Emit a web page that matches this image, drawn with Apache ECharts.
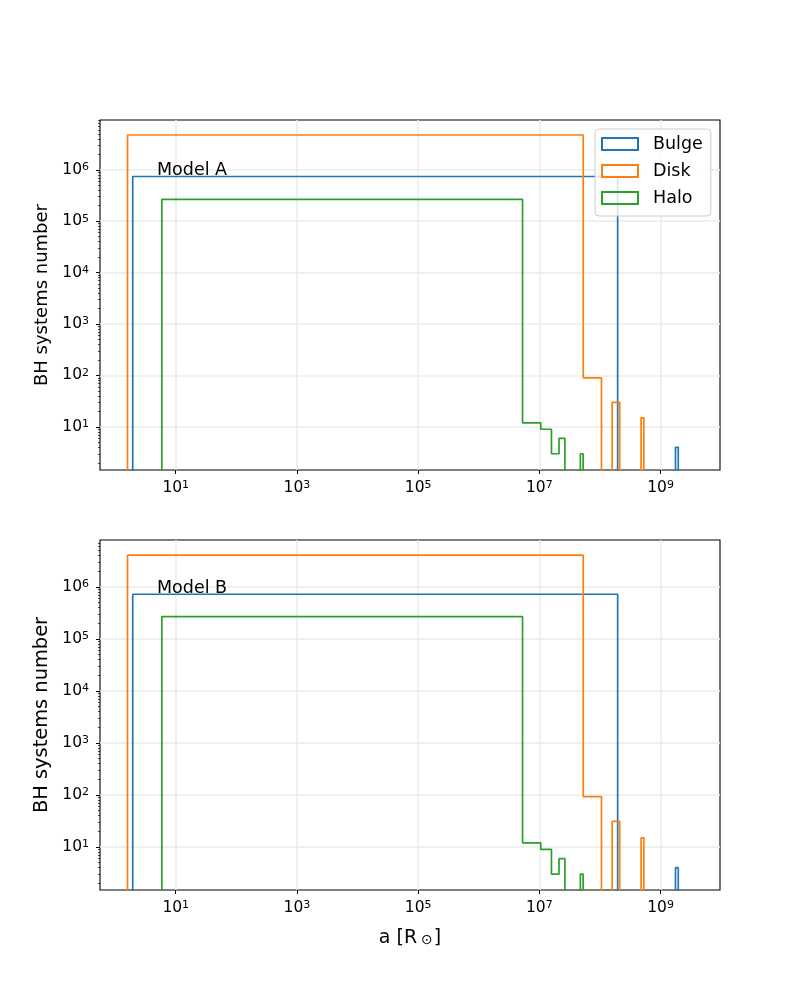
<!DOCTYPE html>
<html>
<head>
<meta charset="utf-8">
<script src="https://cdn.jsdelivr.net/npm/echarts@6/dist/echarts.min.js"></script>
<style>
  html, body { margin: 0; padding: 0; background: #fff; }
  #chart { width: 800px; height: 1000px; }
</style>
</head>
<body>
<div id="chart"></div>
<script>
// bin edges (a in R_sun) and counts per bin
var bulgeEdges = [1.95, 1.96e8, 3.92e8, 5.88e8, 7.84e8, 9.8e8, 1.176e9, 1.372e9, 1.568e9, 1.764e9, 1.96e9];
var diskEdges  = [1.6, 5.3e7, 1.06e8, 1.59e8, 2.12e8, 2.65e8, 3.18e8, 3.71e8, 4.24e8, 4.77e8, 5.3e8];
var haloEdges  = [5.9, 5.28e6, 1.056e7, 1.584e7, 2.112e7, 2.64e7, 3.168e7, 3.696e7, 4.224e7, 4.752e7, 5.28e7];

// Model A
var bulgeA = [7.4e5, 0, 0, 0, 0, 0, 0, 0, 0, 4];
var diskA  = [4.75e6, 90, 0, 30, 0, 0, 0, 0, 0, 15];
var haloA  = [2.67e5, 12, 9, 3, 6, 0, 0, 0, 0, 3];
// Model B
var bulgeB = [7.2e5, 0, 0, 0, 0, 0, 0, 0, 0, 4];
var diskB  = [4.06e6, 93, 0, 31, 0, 0, 0, 0, 0, 15];
var haloB  = [2.68e5, 12, 9, 3, 6, 0, 0, 0, 0, 3];

var names = ['Bulge', 'Disk', 'Halo'];
var colors = ['#1f77b4', '#ff7f0e', '#2ca02c'];
var xTicks = [1e1, 1e3, 1e5, 1e7, 1e9];
var yTicks = [1e1, 1e2, 1e3, 1e4, 1e5, 1e6];

var FONT = 'DejaVu Sans';
var xMin = 0.5627, xMax = 9.57e9;
var yMinA = 1.45, yMaxA = 9.3e6;
var yMinB = 1.49, yMaxB = 7.95e6;

// minor tick positions 2..9 x 10^k
var yMinor = [];
for (var k = 0; k <= 6; k++) {
  for (var m = 2; m <= 9; m++) yMinor.push(m * Math.pow(10, k));
}

// step outline of a histogram; empty bins drop below the axis (clipped)
function stepLine(edges, counts) {
  var floor = 1;
  var pts = [[edges[0], floor]];
  for (var i = 0; i < counts.length; i++) {
    var c = counts[i] > 0 ? counts[i] : floor;
    pts.push([edges[i], c]);
    pts.push([edges[i + 1], c]);
  }
  pts.push([edges[edges.length - 1], floor]);
  return pts;
}

function powLabel(v) {
  var e = Math.round(Math.log(v) / Math.LN10);
  return '{b|10}{s|' + e + '}';
}
var powRich = {
  b: { fontSize: 15.5, fontFamily: FONT, color: '#000' },
  s: { fontSize: 11, fontFamily: FONT, color: '#000', verticalAlign: 'top' }
};

function xAxisCfg(gi, withName) {
  var ax = {
    type: 'log', gridIndex: gi, min: xMin, max: xMax, logBase: 10,
    axisLine: { show: false },
    axisTick: { show: true, length: 4, customValues: xTicks, lineStyle: { color: '#000', width: 1 } },
    axisLabel: { customValues: xTicks, formatter: powLabel, rich: powRich, margin: 10 },
    splitLine: { show: true, lineStyle: { color: '#ebebeb', width: 1.5 } },
    minorTick: { show: false }
  };
  if (withName) {
    ax.name = '{n|a [R}{sub|⊙}{n|]}';
    ax.nameLocation = 'middle';
    ax.nameGap = 39;
    ax.nameTextStyle = {
      rich: {
        n: { fontSize: 19, fontFamily: FONT, color: '#000', padding: [0, 0, 4, 0] },
        sub: { fontSize: 14, fontFamily: FONT, color: '#000', padding: [0, 1, 0, 4] }
      }
    };
  }
  return ax;
}

function yAxisCfg(gi, lo, hi, nameSize) {
  return {
    type: 'log', gridIndex: gi, min: lo, max: hi, logBase: 10,
    name: 'BH systems number', nameLocation: 'middle', nameRotate: 90, nameGap: 47,
    nameTextStyle: { fontSize: nameSize, fontFamily: FONT, color: '#000' },
    axisLine: { show: false },
    axisTick: { show: true, length: 4, customValues: yTicks, lineStyle: { color: '#000', width: 1 } },
    axisLabel: { customValues: yTicks, formatter: powLabel, rich: powRich, margin: 11 },
    splitLine: { show: true, lineStyle: { color: '#ebebeb', width: 1.5 } }
  };
}

function yMinorCfg(gi, lo, hi) {
  return {
    type: 'log', gridIndex: gi, min: lo, max: hi, logBase: 10, position: 'left',
    axisLine: { show: false },
    axisTick: { show: true, length: 2, customValues: yMinor, lineStyle: { color: '#000', width: 0.7 } },
    axisLabel: { show: false },
    splitLine: { show: false }
  };
}

function histSeries(name, color, edges, counts, xi, yi) {
  return {
    name: name, type: 'line', xAxisIndex: xi, yAxisIndex: yi,
    data: stepLine(edges, counts),
    showSymbol: false, symbol: 'none', clip: true,
    lineStyle: { color: color, width: 1.7 },
    itemStyle: { color: color },
    z: 3
  };
}

var chart = echarts.init(document.getElementById('chart'), null, { renderer: 'canvas' });

var option = {
  animation: false,
  backgroundColor: '#fff',
  textStyle: { fontFamily: FONT },
  title: [
    { text: 'Model A', left: 157, top: 161, padding: 0,
      textStyle: { fontSize: 17.5, fontWeight: 'normal', fontFamily: FONT, color: '#000' } },
    { text: 'Model B', left: 157, top: 579, padding: 0,
      textStyle: { fontSize: 17.5, fontWeight: 'normal', fontFamily: FONT, color: '#000' } }
  ],
  legend: {
    orient: 'vertical', left: 595, top: 129,
    data: names.map(function (n, i) {
      return { name: n, icon: 'rect',
        itemStyle: { color: 'rgba(0,0,0,0)', borderColor: colors[i], borderWidth: 2 } };
    }),
    itemWidth: 36, itemHeight: 12, itemGap: 7,
    padding: [5, 8, 8, 6],
    backgroundColor: 'rgba(255,255,255,0.8)',
    borderColor: '#cccccc', borderWidth: 1, borderRadius: 4,
    textStyle: { fontSize: 17.5, fontFamily: FONT, color: '#000', padding: [0, 0, 0, 10], lineHeight: 20 }
  },
  grid: [
    { left: 100, top: 120, width: 620, height: 350, show: true, borderColor: '#000', borderWidth: 1.1, backgroundColor: 'transparent' },
    { left: 100, top: 540, width: 620, height: 350, show: true, borderColor: '#000', borderWidth: 1.1, backgroundColor: 'transparent' }
  ],
  xAxis: [xAxisCfg(0, false), xAxisCfg(1, true)],
  yAxis: [
    yAxisCfg(0, yMinA, yMaxA, 18),
    yMinorCfg(0, yMinA, yMaxA),
    yAxisCfg(1, yMinB, yMaxB, 19.4),
    yMinorCfg(1, yMinB, yMaxB)
  ],
  series: [
    histSeries('Bulge', colors[0], bulgeEdges, bulgeA, 0, 0),
    histSeries('Disk', colors[1], diskEdges, diskA, 0, 0),
    histSeries('Halo', colors[2], haloEdges, haloA, 0, 0),
    histSeries('Bulge', colors[0], bulgeEdges, bulgeB, 1, 2),
    histSeries('Disk', colors[1], diskEdges, diskB, 1, 2),
    histSeries('Halo', colors[2], haloEdges, haloB, 1, 2)
  ]
};

chart.setOption(option);
</script>
</body>
</html>
